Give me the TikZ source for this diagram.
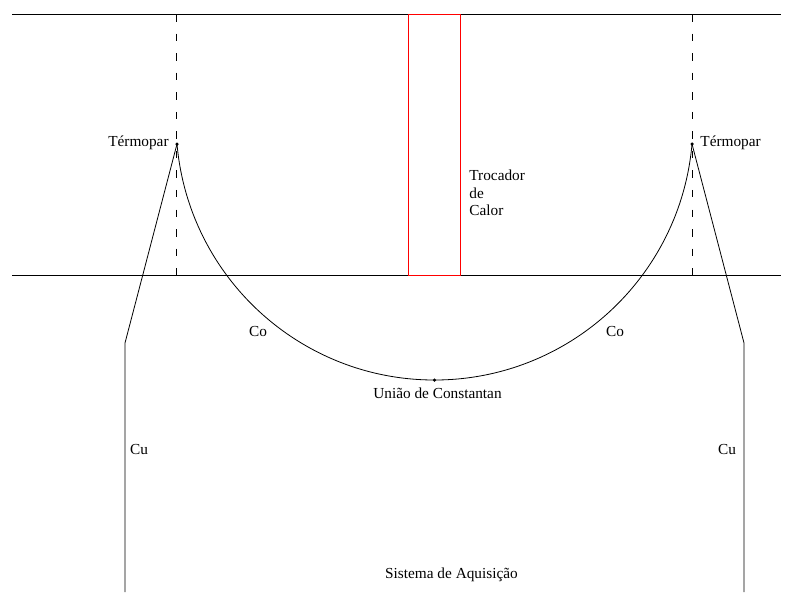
\documentclass[tikz,border=0pt]{standalone}
\usepackage{fontspec}
\setmainfont{Liberation Serif}
\begin{document}
\begin{tikzpicture}[x=1pt,y=-1pt,line width=0.8pt,
  lbl/.style={font=\fontsize{15.3}{17.5}\selectfont,inner sep=0pt,text=black},
  wire/.style={draw=black,line width=0.8pt},
  dot/.style={circle,fill=black,inner sep=0pt,minimum size=3.5pt}]
\useasboundingbox (0,0) rectangle (794,592);
\coordinate (tl) at (12,14.2); \coordinate (tr) at (781,14.2);
\coordinate (bl) at (12,275.5); \coordinate (br) at (781,275.5);
\draw[wire] (tl) -- (tr);
\draw[wire] (bl) -- (br);
\node[dot] (jl) at (177,144) {};
\node[dot] (jr) at (692,144) {};
\node[dot] (jc) at (434.5,380) {};
\coordinate (dl1) at (176.7,14); \coordinate (dl2) at (176.7,275.5);
\coordinate (dr1) at (692,14); \coordinate (dr2) at (692,275.5);
\draw[wire,dashed,dash pattern=on 7.5pt off 12.05pt] (dl1) -- (dl2);
\draw[wire,dashed,dash pattern=on 7.5pt off 12.05pt] (dr1) -- (dr2);
\draw[draw=red,line width=0.9pt] (408.5,14.2) rectangle (460.5,275.5);
\draw[wire] (jl.center) .. controls (188.7,277.5) and (300.45,380) .. (jc.center);
\draw[wire] (jr.center) .. controls (680.3,277.5) and (568.55,380) .. (jc.center);
\coordinate (cl1) at (125,343); \coordinate (cl2) at (125,592);
\coordinate (cr1) at (744,343); \coordinate (cr2) at (744,592);
\draw[wire] (jl.center) -- (cl1) -- (cl2);
\draw[wire] (jr.center) -- (cr1) -- (cr2);
\node[lbl,anchor=east] (tml) at (169,143) {Térmopar};
\node[lbl,anchor=west] (tmr) at (700,143) {Térmopar};
\node[lbl,anchor=west,align=left] (tc) at (469,193) {Trocador\\de\\Calor};
\node[lbl] (col) at (258,332) {Co};
\node[lbl] (cor) at (615,332) {Co};
\node[lbl] (uc) at (437.5,393.5) {União de Constantan};
\node[lbl] (cul) at (139,449) {Cu};
\node[lbl] (cur) at (727,449) {Cu};
\node[lbl] (sa) at (451.5,574.5) {Sistema de Aquisição};
\end{tikzpicture}
\end{document}
